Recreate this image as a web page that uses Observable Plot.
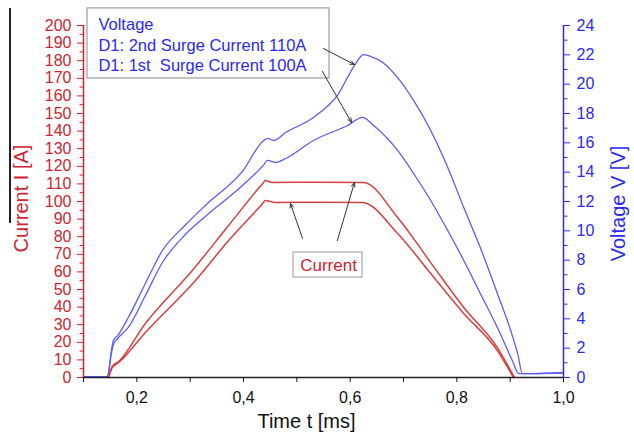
<!DOCTYPE html>
<html>
<head>
<meta charset="utf-8">
<script src="https://cdn.jsdelivr.net/npm/d3@7"></script>
<script src="https://cdn.jsdelivr.net/npm/@observablehq/plot@0.6"></script>
<style>
  body { margin: 0; background: #fff; }
  #wrap { position: relative; width: 634px; height: 438px; }
  #edge { position: absolute; left: 9px; top: 8px; width: 1.5px; height: 215px; background: #222; }
</style>
</head>
<body>
<div id="wrap"><div id="edge"></div></div>
<script>
// ---- data (time in ms, current in A, voltage in V) ----
const tCur110 = [0.147, 0.154, 0.166, 0.216, 0.304, 0.372, 0.436, 0.441, 0.454, 0.540, 0.625, 0.689, 0.751, 0.813, 0.876, 0.908];
const iCur110 = [0, 6.3, 9.1, 30.7, 60.8, 86.4, 110.2, 111.9, 110.8, 111.0, 110.8, 90.9, 65.3, 39.8, 17.0, 0];

const tCur100 = [0.147, 0.154, 0.166, 0.216, 0.310, 0.372, 0.436, 0.441, 0.460, 0.540, 0.623, 0.689, 0.751, 0.813, 0.876, 0.906];
const iCur100 = [0, 5.7, 8.5, 25.6, 55.1, 77.8, 98.9, 100.6, 99.4, 99.6, 99.4, 81.8, 59.1, 36.4, 15.3, 0];

const tV110 = [0.100, 0.145, 0.147, 0.151, 0.156, 0.164, 0.184, 0.216, 0.248, 0.291, 0.329, 0.398, 0.438, 0.445, 0.456, 0.479, 0.531, 0.576, 0.608, 0.625, 0.638, 0.661, 0.689, 0.719, 0.751, 0.783, 0.813, 0.844, 0.876, 0.901, 0.914, 0.923, 0.940, 1.000];
const vV110 = [0.05, 0.05, 0.3, 1.5, 2.52, 2.86, 4.09, 6.41, 8.66, 10.4, 11.75, 14.05, 16.16, 16.3, 16.16, 16.7, 17.73, 19.23, 21.27, 22.02, 21.89, 21.48, 20.45, 18.89, 16.84, 14.32, 11.59, 8.86, 5.73, 3.2, 1.64, 0.27, 0.27, 0.34];

const tV100 = [0.100, 0.145, 0.147, 0.151, 0.156, 0.164, 0.184, 0.216, 0.248, 0.291, 0.329, 0.398, 0.438, 0.445, 0.460, 0.479, 0.531, 0.595, 0.623, 0.644, 0.689, 0.719, 0.751, 0.783, 0.813, 0.844, 0.876, 0.904, 0.916, 0.940, 1.000];
const vV100 = [0.05, 0.05, 0.3, 1.36, 2.25, 2.66, 3.41, 5.59, 7.84, 9.75, 11.0, 13.09, 14.5, 14.8, 14.66, 14.93, 16.16, 17.18, 17.73, 17.18, 15.48, 13.91, 12.07, 10.02, 7.98, 5.73, 3.41, 1.16, 0.27, 0.27, 0.3];

// tick values
const xMajor = [0.2, 0.4, 0.6, 0.8, 1.0];
const xMinor = [0.1, 0.3, 0.5, 0.7, 0.9];
const iMajor = d3.range(0, 201, 10);
const iMinor = d3.range(5, 200, 10);
const vMajor = d3.range(0, 25, 2);
const vMinor = d3.range(1, 24, 2);

// annotations (data coordinates: t in ms, y in current units)
const legendLabels = ["Voltage", "D1: 2nd Surge Current 110A", "D1: 1st\u00a0 Surge Current 100A"];
const legendRowY = [200.6, 188.4, 177.0];
const legendTextX = 0.128;
const legendBox = [{x1: 0.1075, x2: 0.5613, y1: 169.9, y2: 209.7}];
const currentBox = [{x1: 0.4938, x2: 0.6231, y1: 56.8, y2: 71.0}];
const currentLabel = [{t: 0.5594, y: 63.6, text: "Current"}];
const arrowFromT = [0.550, 0.548, 0.5106, 0.576];
const arrowFromY = [186.9, 173.9, 79.0, 77.8];
const arrowToT = [0.608, 0.6025, 0.488, 0.608];
const arrowToY = [177.8, 144.9, 98.9, 110.8];

// ---- build tables ----
const K = 200 / 24; // voltage -> current-axis units
const cur110 = tCur110.map((t, i) => ({t, y: iCur110[i]}));
const cur100 = tCur100.map((t, i) => ({t, y: iCur100[i]}));
const volt110 = tV110.map((t, i) => ({t, y: vV110[i] * K}));
const volt100 = tV100.map((t, i) => ({t, y: vV100[i] * K}));
const legendRows = legendLabels.map((s, i) => ({text: s, y: legendRowY[i]}));
const arrows = arrowFromT.map((t, i) => ({x1: t, y1: arrowFromY[i], x2: arrowToT[i], y2: arrowToY[i]}));

const RED = "#cf2430";
const REDLINE = "#d64040";
const BLUE = "#2a2af5";
const BLUELINE = "#5c5cf6";
const FONT = "'Liberation Sans', Arial, Helvetica, sans-serif";

const chart = Plot.plot({
  width: 634,
  height: 438,
  marginTop: 25,
  marginBottom: 61,
  marginLeft: 83,
  marginRight: 71,
  style: {fontFamily: FONT, background: "white", overflow: "visible"},
  x: {domain: [0.1, 1.0]},
  y: {domain: [0, 200]},
  marks: [
    // data
    Plot.line(volt110, {x: "t", y: "y", stroke: BLUELINE, strokeWidth: 1.3, curve: "monotone-x"}),
    Plot.line(volt100, {x: "t", y: "y", stroke: BLUELINE, strokeWidth: 1.3, curve: "monotone-x"}),
    Plot.line(cur110, {x: "t", y: "y", stroke: REDLINE, strokeWidth: 1.5, curve: "monotone-x"}),
    Plot.line(cur100, {x: "t", y: "y", stroke: REDLINE, strokeWidth: 1.5, curve: "monotone-x"}),

    // axis lines
    Plot.ruleX([0.1], {stroke: RED, strokeWidth: 1.5}),
    Plot.ruleX([1.0], {stroke: BLUE, strokeWidth: 1.5}),
    Plot.ruleY([0], {stroke: "#222", strokeWidth: 1.5}),

    // x axis
    Plot.axisX({ticks: xMajor, tickFormat: d => d.toFixed(1).replace(".", ","), tickSize: 5, tickPadding: 9,
      fontSize: 16, color: "#111", label: null}),
    Plot.axisX({ticks: xMinor, tickFormat: () => "", tickSize: 5, color: "#111", label: null}),

    // left (current) axis
    Plot.axisY({anchor: "left", ticks: iMajor, tickSize: 6, tickPadding: 6, fontSize: 16, color: RED, label: null}),
    Plot.axisY({anchor: "left", ticks: iMinor, tickFormat: () => "", tickSize: 3.5, color: RED, label: null}),

    // right (voltage) axis
    Plot.axisY({anchor: "right", ticks: vMajor.map(v => v * K), tickFormat: d => String(Math.round(d / K)),
      tickSize: 6, tickPadding: 7, fontSize: 16, color: BLUE, label: null}),
    Plot.axisY({anchor: "right", ticks: vMinor.map(v => v * K), tickFormat: () => "", tickSize: 3.5, color: BLUE, label: null}),

    // axis titles
    Plot.text(["Current I [A]"], {frameAnchor: "left", textAnchor: "middle", rotate: -90, dx: -62, dy: -3, fontSize: 20, fill: RED}),
    Plot.text(["Voltage V [V]"], {frameAnchor: "right", textAnchor: "middle", rotate: -90, dx: 55, dy: 2, fontSize: 20, fill: BLUE}),
    Plot.text(["Time t [ms]"], {frameAnchor: "bottom", textAnchor: "middle", dx: -17, dy: 50, fontSize: 20, fill: "#111"}),

    // legend box
    Plot.rect(legendBox, {x1: "x1", x2: "x2", y1: "y1", y2: "y2", fill: "white", stroke: "#888", strokeWidth: 1}),
    Plot.text(legendRows, {x: () => legendTextX, y: "y", text: "text", textAnchor: "start", fontSize: 16.5, fill: BLUE}),

    // current label box
    Plot.rect(currentBox, {x1: "x1", x2: "x2", y1: "y1", y2: "y2", fill: "white", stroke: "#999", strokeWidth: 1}),
    Plot.text(currentLabel, {x: "t", y: "y", text: "text", fontSize: 17, fill: RED}),

    // arrows
    Plot.arrow(arrows, {x1: "x1", y1: "y1", x2: "x2", y2: "y2", stroke: "#333", strokeWidth: 1, headLength: 7, headAngle: 45})
  ]
});

document.getElementById("wrap").appendChild(chart);
</script>
</body>
</html>
